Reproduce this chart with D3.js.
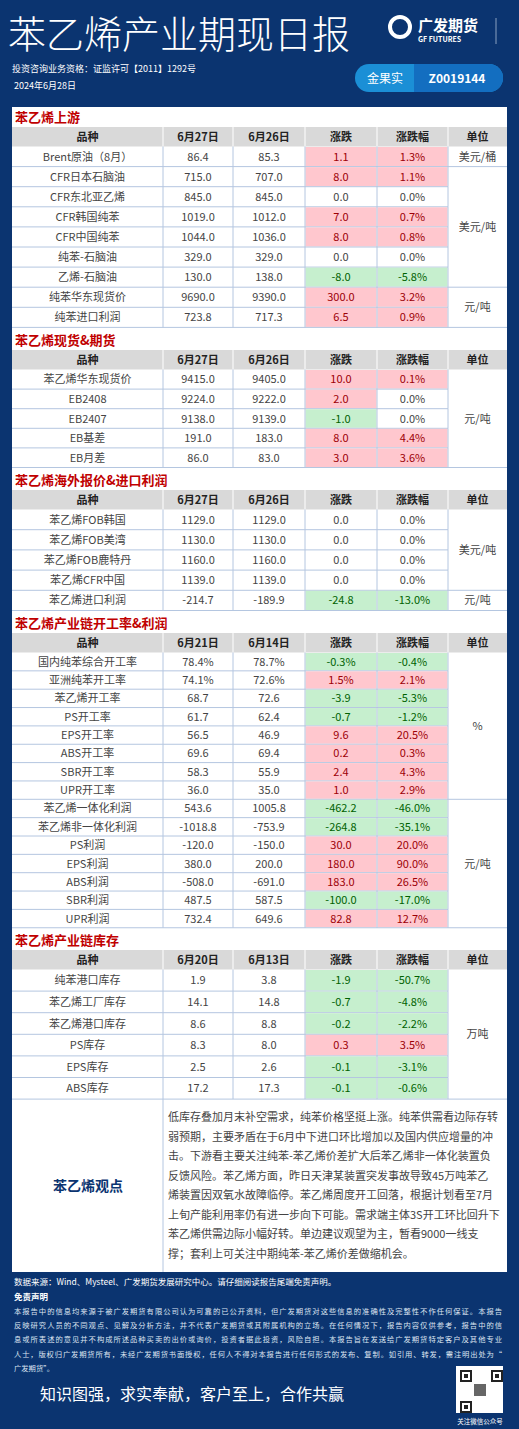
<!DOCTYPE html>
<html><head><meta charset="utf-8">
<script src="https://cdn.jsdelivr.net/npm/d3@7"></script>
<style>body{margin:0;background:#0b3470}svg{display:block}</style>
</head><body><svg id="c" width="519" height="1429"></svg>
<script>
const sectionTitles=["苯乙烯上游","苯乙烯现货&期货","苯乙烯海外报价&进口利润","苯乙烯产业链开工率&利润","苯乙烯产业链库存"];
const dateHeaders=[["6月27日","6月26日"],["6月27日","6月26日"],["6月27日","6月26日"],["6月21日","6月14日"],["6月20日","6月13日"]];
const names1=["Brent原油（8月）","CFR日本石脑油","CFR东北亚乙烯","CFR韩国纯苯","CFR中国纯苯","纯苯-石脑油","乙烯-石脑油","纯苯华东现货价","纯苯进口利润"];
const cur1=["86.4","715.0","845.0","1019.0","1044.0","329.0","130.0","9690.0","723.8"];
const prev1=["85.3","707.0","845.0","1012.0","1036.0","329.0","138.0","9390.0","717.3"];
const chg1=["1.1","8.0","0.0","7.0","8.0","0.0","-8.0","300.0","6.5"];
const pct1=["1.3%","1.1%","0.0%","0.7%","0.8%","0.0%","-5.8%","3.2%","0.9%"];
const units1=[["美元/桶",1],["美元/吨",6],["元/吨",2]];
const names2=["苯乙烯华东现货价","EB2408","EB2407","EB基差","EB月差"];
const cur2=["9415.0","9224.0","9138.0","191.0","86.0"];
const prev2=["9405.0","9222.0","9139.0","183.0","83.0"];
const chg2=["10.0","2.0","-1.0","8.0","3.0"];
const pct2=["0.1%","0.0%","0.0%","4.4%","3.6%"];
const units2=[["元/吨",5]];
const names3=["苯乙烯FOB韩国","苯乙烯FOB美湾","苯乙烯FOB鹿特丹","苯乙烯CFR中国","苯乙烯进口利润"];
const cur3=["1129.0","1130.0","1160.0","1139.0","-214.7"];
const prev3=["1129.0","1130.0","1160.0","1139.0","-189.9"];
const chg3=["0.0","0.0","0.0","0.0","-24.8"];
const pct3=["0.0%","0.0%","0.0%","0.0%","-13.0%"];
const units3=[["美元/吨",4],["元/吨",1]];
const names4=["国内纯苯综合开工率","亚洲纯苯开工率","苯乙烯开工率","PS开工率","EPS开工率","ABS开工率","SBR开工率","UPR开工率","苯乙烯一体化利润","苯乙烯非一体化利润","PS利润","EPS利润","ABS利润","SBR利润","UPR利润"];
const cur4=["78.4%","74.1%","68.7","61.7","56.5","69.6","58.3","36.0","543.6","-1018.8","-120.0","380.0","-508.0","487.5","732.4"];
const prev4=["78.7%","72.6%","72.6","62.4","46.9","69.4","55.9","35.0","1005.8","-753.9","-150.0","200.0","-691.0","587.5","649.6"];
const chg4=["-0.3%","1.5%","-3.9","-0.7","9.6","0.2","2.4","1.0","-462.2","-264.8","30.0","180.0","183.0","-100.0","82.8"];
const pct4=["-0.4%","2.1%","-5.3%","-1.2%","20.5%","0.3%","4.3%","2.9%","-46.0%","-35.1%","20.0%","90.0%","26.5%","-17.0%","12.7%"];
const units4=[["%",8],["元/吨",7]];
const names5=["纯苯港口库存","苯乙烯工厂库存","苯乙烯港口库存","PS库存","EPS库存","ABS库存"];
const cur5=["1.9","14.1","8.6","8.3","2.5","17.2"];
const prev5=["3.8","14.8","8.8","8.0","2.6","17.3"];
const chg5=["-1.9","-0.7","-0.2","0.3","-0.1","-0.1"];
const pct5=["-50.7%","-4.8%","-2.2%","3.5%","-3.1%","-0.6%"];
const units5=[["万吨",6]];
const viewText=["低库存叠加月末补空需求，纯苯价格坚挺上涨。纯苯供需看边际存转","弱预期，主要矛盾在于6月中下进口环比增加以及国内供应增量的冲","击。下游看主要关注纯苯-苯乙烯价差扩大后苯乙烯非一体化装置负","反馈风险。苯乙烯方面，昨日天津某装置突发事故导致45万吨苯乙","烯装置因双氧水故障临停。苯乙烯周度开工回落，根据计划看至7月","上旬产能利用率仍有进一步向下可能。需求端主体3S开工环比回升下","苯乙烯供需边际小幅好转。单边建议观望为主，暂看9000一线支","撑；套利上可关注中期纯苯-苯乙烯价差做缩机会。"];
const disclaim=["本报告中的信息均来源于被广发期货有限公司认为可靠的已公开资料，但广发期货对这些信息的准确性及完整性不作任何保证。本报告","反映研究人员的不同观点、见解及分析方法，并不代表广发期货或其附属机构的立场。在任何情况下，报告内容仅供参考，报告中的信","息或所表述的意见并不构成所述品种买卖的出价或询价，投资者据此投资，风险自担。本报告旨在发送给广发期货特定客户及其他专业","人士，版权归广发期货所有，未经广发期货书面授权，任何人不得对本报告进行任何形式的发布、复制。如引用、转发，需注明出处为“","广发期货”。"];

const sections=[
 [names1,cur1,prev1,chg1,pct1,units1],[names2,cur2,prev2,chg2,pct2,units2],
 [names3,cur3,prev3,chg3,pct3,units3],[names4,cur4,prev4,chg4,pct4,units4],
 [names5,cur5,prev5,chg5,pct5,units5]];
const rowHs=[20.1,19.6,20.2,18.35,21.6];
const sectionTops=[107,330,470,613,930];

const svg=d3.select("#c");
const F="'Noto Sans CJK SC','Noto Sans',sans-serif";
const NAVY="#0b3470";
svg.append("rect").attr("width",519).attr("height",1429).attr("fill",NAVY);
svg.append("text").attr("x",8).attr("y",48).attr("fill","#fff").attr("font-family",F).attr("font-size",38).attr("font-weight",300).text("苯乙烯产业期现日报");
const lg=svg.append("g").attr("transform","translate(388,15)");
lg.append("circle").attr("cx",12).attr("cy",12).attr("r",10).attr("fill","none").attr("stroke","#fff").attr("stroke-width",4);
lg.append("text").attr("x",30).attr("y",16).attr("fill","#fff").attr("font-family",F).attr("font-size",15).attr("font-weight",700).text("广发期货");
lg.append("text").attr("x",30).attr("y",27).attr("fill","#fff").attr("font-family",F).attr("font-size",7).attr("font-weight",700).text("GF FUTURES");
svg.append("line").attr("x1",496).attr("x2",496).attr("y1",18).attr("y2",44).attr("stroke","#8aa0c0");
svg.append("text").attr("x",12).attr("y",72).attr("fill","#fff").attr("font-family",F).attr("font-size",9).text("投资咨询业务资格：证监许可【2011】1292号");
svg.append("text").attr("x",14).attr("y",89).attr("fill","#fff").attr("font-family",F).attr("font-size",9).text("2024年6月28日");
svg.append("rect").attr("x",355).attr("y",64).attr("width",148).attr("height",28).attr("rx",14).attr("fill","#1b8fd6");
svg.append("rect").attr("x",414).attr("y",64).attr("width",75).attr("height",28).attr("fill","#136ec0");
svg.append("path").attr("d","M489,64 A14,14 0 0 1 489,92 Z").attr("fill","#136ec0");
svg.append("text").attr("x",385).attr("y",83).attr("text-anchor","middle").attr("fill","#fff").attr("font-family",F).attr("font-size",12).text("金果实");
svg.append("text").attr("x",457).attr("y",83).attr("text-anchor","middle").attr("fill","#fff").attr("font-family",F).attr("font-size",12).attr("font-weight",700).text("Z0019144");

const X0=12,X1=507;
const colEdges=[12,163,233,305,377,448,507];
svg.append("rect").attr("x",X0).attr("y",107).attr("width",X1-X0).attr("height",1165).attr("fill","#fff");
const titleH=20,headH=19.5;
const grid="#b4c6e0";
const hdr=["品种",null,null,"涨跌","涨跌幅","单位"];
let y;
sections.forEach((s,si)=>{
  const [nm,cu,pr,ch,pc,un]=s;
  const rowH=rowHs[si];
  y=sectionTops[si];
  svg.append("text").attr("x",15).attr("y",y+15).attr("fill","#c00000").attr("font-family",F).attr("font-size",13).attr("font-weight",700).text(sectionTitles[si]);
  y+=titleH;
  svg.append("rect").attr("x",X0).attr("y",y).attr("width",X1-X0).attr("height",headH).attr("fill","#d9d9d9");
  const hv=hdr.map((h,i)=>h||dateHeaders[si][i-1]);
  hv.forEach((h,i)=>{
    svg.append("text").attr("x",(colEdges[i]+colEdges[i+1])/2).attr("y",y+14).attr("text-anchor","middle").attr("font-family",F).attr("font-size",11).attr("font-weight",700).attr("fill","#222").text(h);
    if(i>0) svg.append("line").attr("x1",colEdges[i]).attr("x2",colEdges[i]).attr("y1",y).attr("y2",y+headH).attr("stroke","#fff");
  });
  y+=headH;
  const yS=d3.scaleLinear().domain([0,nm.length]).range([y,y+nm.length*rowH]);
  const ty=rowH/2+4;
  nm.forEach((n,r)=>{
    const ry=yS(r);
    const vals=[n,cu[r],pr[r],ch[r],pc[r]];
    [3,4].forEach(ci=>{
      const vv=parseFloat(vals[ci]);
      if(vv!==0) svg.append("rect").attr("x",colEdges[ci]+0.5).attr("y",ry+0.5).attr("width",colEdges[ci+1]-colEdges[ci]-1).attr("height",rowH-1).attr("fill",vv>0?"#ffc7ce":"#c6efce");
    });
    vals.forEach((t,ci)=>{
      const vv=parseFloat(t);
      const col=ci>=3&&vv!==0?(vv>0?"#9c0006":"#006100"):"#444";
      svg.append("text").attr("x",(colEdges[ci]+colEdges[ci+1])/2).attr("y",ry+ty).attr("text-anchor","middle").attr("font-family",F).attr("font-size",11).attr("fill",col).text(t);
    });
    svg.append("line").attr("x1",X0).attr("x2",colEdges[5]).attr("y1",ry+rowH).attr("y2",ry+rowH).attr("stroke",grid);
    colEdges.slice(1,6).forEach(cx=>svg.append("line").attr("x1",cx).attr("x2",cx).attr("y1",ry).attr("y2",ry+rowH).attr("stroke",grid));
  });
  let k=0;
  un.forEach(([u,c])=>{
    const a=yS(k),b=yS(k+c);
    svg.append("text").attr("x",(colEdges[5]+X1)/2).attr("y",(a+b)/2+4).attr("text-anchor","middle").attr("font-family",F).attr("font-size",11).attr("fill","#444").text(u);
    svg.append("line").attr("x1",colEdges[5]).attr("x2",X1).attr("y1",b).attr("y2",b).attr("stroke",grid);
    k+=c;
  });
  y=yS(nm.length);
});
const vy=y;
svg.append("line").attr("x1",163).attr("x2",163).attr("y1",vy).attr("y2",1272).attr("stroke",grid);
svg.append("text").attr("x",88).attr("y",(vy+1272)/2+5).attr("text-anchor","middle").attr("fill",NAVY).attr("font-family",F).attr("font-size",14).attr("font-weight",700).text("苯乙烯观点");
viewText.forEach((t,i)=>svg.append("text").attr("x",168).attr("y",vy+22+i*19.5).attr("font-family",F).attr("font-size",11).attr("fill","#444").text(t));
svg.append("text").attr("x",14).attr("y",1285).attr("fill","#fff").attr("font-family",F).attr("font-size",8.5).text("数据来源：Wind、Mysteel、广发期货发展研究中心。请仔细阅读报告尾端免责声明。");
svg.append("text").attr("x",14).attr("y",1300).attr("fill","#fff").attr("font-family",F).attr("font-size",8.5).attr("font-weight",700).text("免责声明");
disclaim.forEach((t,i)=>svg.append("text").attr("x",14).attr("y",1314+i*14.2).attr("fill","#dde4f0").attr("font-family",F).attr("font-size",7.3).attr("textLength",i<4?488:null).text(t));
svg.append("text").attr("x",40).attr("y",1400).attr("fill","#fff").attr("font-family",F).attr("font-size",16).text("知识图强，求实奉献，客户至上，合作共赢");
svg.append("rect").attr("x",456).attr("y",1366).attr("width",47).attr("height",47).attr("fill","#fff");
const qr=svg.append("g");
[[0,0],[31,0],[0,31]].forEach(([a,b])=>{qr.append("rect").attr("x",460+a).attr("y",1370+b).attr("width",12).attr("height",12).attr("fill","#222");qr.append("rect").attr("x",462+a).attr("y",1372+b).attr("width",8).attr("height",8).attr("fill","#fff");qr.append("rect").attr("x",464+a).attr("y",1374+b).attr("width",4).attr("height",4).attr("fill","#222");});
qr.append("rect").attr("x",474).attr("y",1384).attr("width",12).attr("height",12).attr("fill","#666");
svg.append("text").attr("x",480).attr("y",1424).attr("text-anchor","middle").attr("fill","#fff").attr("font-family",F).attr("font-size",6.5).text("关注微信公众号");
</script></body></html>
